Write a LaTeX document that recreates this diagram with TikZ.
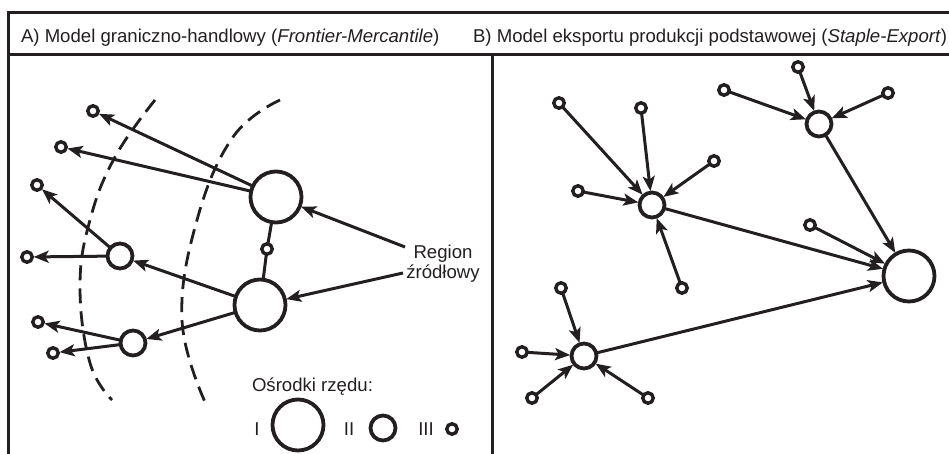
\documentclass[tikz,border=0pt]{standalone}
\usepackage{fontspec}
\setmainfont{Liberation Sans}
\usetikzlibrary{arrows.meta}
\definecolor{ink}{HTML}{231F20}
\begin{document}
\begin{tikzpicture}[x=1pt,y=-1pt,
  every node/.style={inner sep=0pt, outer sep=0pt},
  big/.style={circle, draw=ink, line width=3.8pt, minimum size=51pt},
  med/.style={circle, draw=ink, line width=3.8pt, minimum size=25pt},
  sml/.style={circle, draw=ink, line width=3.4pt, minimum size=10.5pt},
  arr/.style={draw=ink, line width=3pt, -{Stealth[length=15pt,width=12pt,inset=3.5pt]}, shorten >=1.4pt},
  link/.style={draw=ink, line width=3pt},
  frame/.style={draw=ink, line width=3pt},
  arcline/.style={draw=ink, line width=2.8pt, dash pattern=on 15pt off 8pt},
  lbl/.style={text=ink, font=\fontsize{18.6}{21}\selectfont}
]
\useasboundingbox (0,0) rectangle (949,454);
% frame
\draw[frame] (949,13) -- (8,13) -- (8,454);
\draw[frame] (8,55) -- (949,55);
\draw[frame] (492,55) -- (492,454);
\node[lbl, anchor=base west] (ta) at (21,43) {A) Model graniczno-handlowy (\textit{Frontier-Mercantile})};
\node[lbl, anchor=base west] (tb) at (473,43) {B) Model eksportu produkcji podstawowej (\textit{Staple-Export})};

% dashed arcs
\draw[arcline] plot[smooth, tension=0.7] coordinates {(155,100) (115,157) (90,220) (80,287) (90,363) (112,400)};
\draw[arcline] plot[smooth, tension=0.7] coordinates {(280,100) (233,137) (197,220) (182,320) (205,402)};

% left panel nodes
\node[big] (T) at (276,197) {};
\node[big] (B) at (260,305) {};
\node[sml] (s7) at (267,249) {};
\node[med] (M1) at (120,256) {};
\node[med] (M2) at (133,343) {};
\node[sml] (s1) at (93,111) {};
\node[sml] (s2) at (61,147) {};
\node[sml] (s3) at (37,185) {};
\node[sml] (s4) at (27,257) {};
\node[sml] (s5) at (38,322) {};
\node[sml] (s6) at (53,353) {};

\draw[arr] (T) -- (s1);
\draw[arr] (T) -- (s2);
\draw[arr] (M1) -- (s3);
\draw[arr] (M1) -- (s4);
\draw[arr] (B) -- (M1);
\draw[arr] (B) -- (M2);
\draw[arr] (M2) -- (s5);
\draw[arr] (M2) -- (s6);
\draw[link] (T) -- (s7);
\draw[link] (s7) -- (B);

\node[lbl, align=center] (reg) at (443,264) {Region\\[-1pt]źródłowy};
\coordinate (r1) at (405,247);
\coordinate (r2) at (403,273);
\draw[arr] (r1) -- (T);
\draw[arr] (r2) -- (B);

% legend
\node[lbl, anchor=base west] (leg) at (252,391) {Ośrodki rzędu:};
\node[lbl] (l1) at (257,429) {I};
\node[big] (L1) at (298,425) {};
\node[lbl] (l2) at (349,429) {II};
\node[med] (L2) at (383,428) {};
\node[lbl] (l3) at (426,429) {III};
\node[sml] (L3) at (452,429) {};

% right panel
\node[big] (R) at (909,276) {};
\node[med] (A) at (652,205) {};
\node[med] (Bm) at (819,124) {};
\node[med] (C) at (584,356) {};
\node[sml] (a1) at (559,103) {};
\node[sml] (a2) at (641,108) {};
\node[sml] (a3) at (714,161) {};
\node[sml] (a4) at (578,191) {};
\node[sml] (a5) at (682,288) {};
\node[sml] (b1) at (798,67) {};
\node[sml] (b2) at (724,90) {};
\node[sml] (b3) at (888,93) {};
\node[sml] (q1) at (810,225) {};
\node[sml] (c1) at (561,288) {};
\node[sml] (c2) at (522,352) {};
\node[sml] (c3) at (532,398) {};
\node[sml] (c4) at (648,398) {};

\foreach \s in {a1,a2,a3,a4,a5} \draw[arr] (\s) -- (A);
\foreach \s in {b1,b2,b3} \draw[arr] (\s) -- (Bm);
\foreach \s in {c1,c2,c3,c4} \draw[arr] (\s) -- (C);
\draw[arr] (q1) -- (R);
\draw[arr] (A) -- (R);
\draw[arr] (Bm) -- (R);
\draw[arr] (C) -- (R);
\end{tikzpicture}
\end{document}
